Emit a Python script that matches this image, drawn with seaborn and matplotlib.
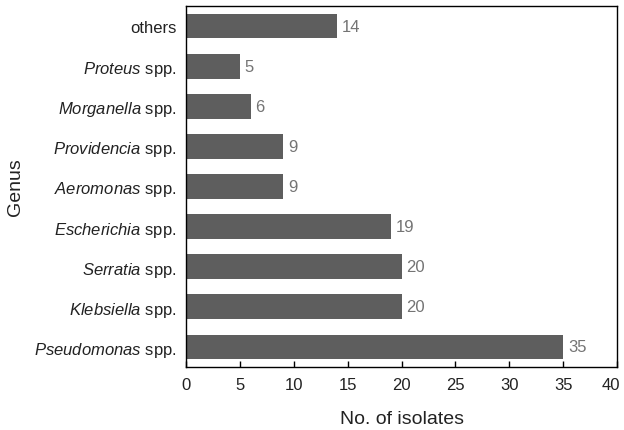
import matplotlib
matplotlib.use("Agg")
import matplotlib.pyplot as plt
import matplotlib.transforms as mtransforms
import seaborn as sns
import pandas as pd

genera = ["others", "Proteus", "Morganella", "Providencia", "Aeromonas",
          "Escherichia", "Serratia", "Klebsiella", "Pseudomonas"]
counts = [14, 5, 6, 9, 9, 19, 20, 20, 35]
xticks = [0, 5, 10, 15, 20, 25, 30, 35, 40]

sns.set_theme(style="white")
plt.rcParams['font.family'] = ['Liberation Sans', 'DejaVu Sans']
plt.rcParams['mathtext.fontset'] = 'custom'
plt.rcParams['mathtext.rm'] = 'Liberation Sans'
plt.rcParams['mathtext.it'] = 'Liberation Sans:italic'

labels = [g if g == "others" else r"$\mathit{" + g + "}$ spp." for g in genera]
df = pd.DataFrame({"Genus": labels, "No. of isolates": counts})

W, H = 624, 431
L, R, T, B = 186, 617, 7, 368
fig = plt.figure(figsize=(W / 100, H / 100), dpi=100)
ax = fig.add_axes([L / W, 1 - B / H, (R - L) / W, (B - T) / H])
sns.barplot(data=df, y="Genus", x="No. of isolates", order=labels, orient="h",
            color="#5e5e5e", saturation=1, width=0.62, ax=ax, edgecolor="none")

for i, v in enumerate(counts):
    ax.text(v + 0.45, i, str(v), va="center", ha="left", fontsize=12, color="#747474")

ax.set_xlim(0, 40)
ax.set_ylim(8.5, -0.5)
ax.set_xticks(xticks)
ax.set_xticklabels([str(t) for t in xticks], fontsize=12, color="#222222")
ax.tick_params(axis="x", direction="in", length=4, width=1, color="black", bottom=True, pad=7)
ax.tick_params(axis="y", length=0, labelsize=12, labelcolor="#222222", pad=7)
for s in ax.spines.values():
    s.set_visible(True)
    s.set_color("black")
    s.set_linewidth(1)
ax.set_xlabel("No. of isolates", fontsize=14, labelpad=13, color="#222222")
ax.set_ylabel("Genus", fontsize=14, labelpad=7, color="#222222")

# nudge the last tick label so it stays inside the figure, as in the reference
last = ax.xaxis.get_major_ticks()[-1].label1
last.set_transform(last.get_transform() +
                   mtransforms.ScaledTranslation(-6 / 100, 0, fig.dpi_scale_trans))

fig.savefig("out.png", dpi=100)
